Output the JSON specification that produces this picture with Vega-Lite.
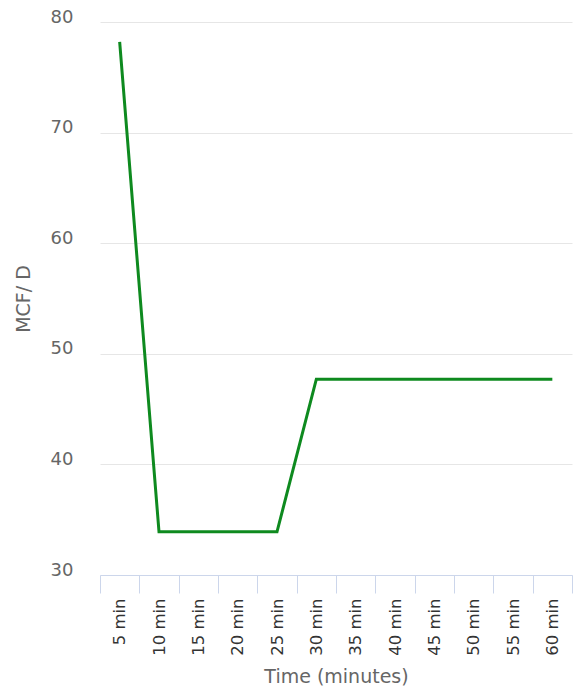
{
  "$schema": "https://vega.github.io/schema/vega-lite/v6.json",
  "width": 472,
  "height": 553,
  "autosize": "none",
  "padding": {"left": 100, "top": 22, "right": 9, "bottom": 123},
  "background": "white",
  "config": {
    "font": "DejaVu Sans",
    "view": {"stroke": null}
  },
  "data": {
    "values": [
      {"t": "5 min", "v": 78.2},
      {"t": "10 min", "v": 33.9},
      {"t": "15 min", "v": 33.9},
      {"t": "20 min", "v": 33.9},
      {"t": "25 min", "v": 33.9},
      {"t": "30 min", "v": 47.7},
      {"t": "35 min", "v": 47.7},
      {"t": "40 min", "v": 47.7},
      {"t": "45 min", "v": 47.7},
      {"t": "50 min", "v": 47.7},
      {"t": "55 min", "v": 47.7},
      {"t": "60 min", "v": 47.7}
    ]
  },
  "mark": {"type": "line", "color": "#0e8a1f", "strokeWidth": 3},
  "encoding": {
    "x": {
      "field": "t",
      "type": "ordinal",
      "sort": null,
      "scale": {"paddingInner": 0, "paddingOuter": 0},
      "axis": {
        "title": "Time (minutes)",
        "titleFontSize": 19,
        "titleFontWeight": "normal",
        "titleColor": "#666666",
        "titlePadding": 12,
        "labelAngle": -90,
        "labelFontSize": 16.5,
        "labelColor": "#333333",
        "labelPadding": 5,
        "tickBand": "extent",
        "tickSize": 18,
        "tickColor": "#ccd6eb",
        "domainColor": "#ccd6eb",
        "grid": false
      }
    },
    "y": {
      "field": "v",
      "type": "quantitative",
      "scale": {"domain": [30, 80], "nice": false, "zero": false},
      "axis": {
        "title": "MCF/ D",
        "titleFontSize": 19,
        "titleFontWeight": "normal",
        "titleColor": "#666666",
        "titlePadding": 17,
        "values": [30, 40, 50, 60, 70, 80],
        "labelFontSize": 18,
        "labelColor": "#666666",
        "labelPadding": 27,
        "labelOffset": -5,
        "ticks": false,
        "domain": false,
        "gridColor": "#e6e6e6",
        "gridWidth": 1
      }
    }
  }
}
